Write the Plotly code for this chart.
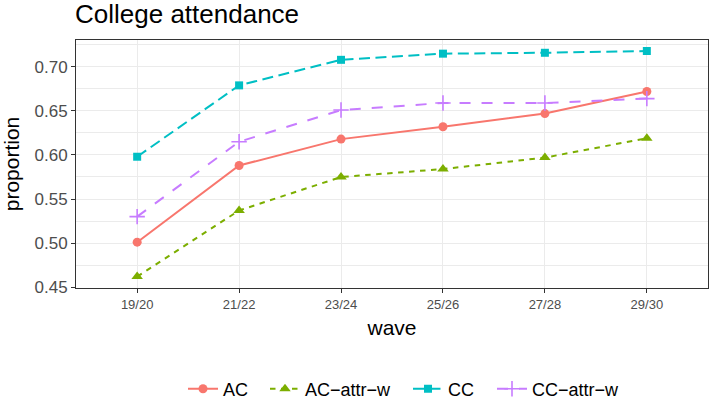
import plotly.graph_objects as go

waves = ["19/20", "21/22", "23/24", "25/26", "27/28", "29/30"]
ac = [0.501, 0.588, 0.618, 0.632, 0.647, 0.672]
ac_attr_w = [0.462, 0.537, 0.575, 0.584, 0.597, 0.619]
cc = [0.598, 0.679, 0.708, 0.715, 0.716, 0.718]
cc_attr_w = [0.530, 0.615, 0.651, 0.659, 0.659, 0.664]

series = [
    ("AC", ac, "#F8766D", "solid", "circle", 9),
    ("AC\u2212attr\u2212w", ac_attr_w, "#7CAE00", "5.5px,5.5px", "triangle-up", 10),
    ("CC", cc, "#00BFC4", "11px,5.5px", "square", 8),
    ("CC\u2212attr\u2212w", cc_attr_w, "#C77CFF", "11px,11px", "cross-thin", 11),
]
# left edge (px) of each legend entry's text in the reference
legend_text_x = [223, 305, 448, 532]

fig = go.Figure()
legend_ids = ["legend", "legend2", "legend3", "legend4"]
for i, (name, vals, color, dash, sym, size) in enumerate(series):
    fig.add_trace(go.Scatter(
        x=waves, y=vals, name=name, mode="lines+markers", legend=legend_ids[i],
        line=dict(color=color, width=2, dash=dash),
        marker=dict(symbol=sym, size=size, color=color,
                    line=dict(color=color, width=1.6 if sym == "cross-thin" else 0)),
    ))

grid = "#EBEBEB"
legend_layout = {}
for i, lid in enumerate(legend_ids):
    legend_layout[lid] = dict(
        orientation="h", x=(legend_text_x[i] - 40) / 709, xref="container", xanchor="left",
        y=1 - 389/402, yref="container", yanchor="middle",
        font=dict(size=18, color="black"), itemwidth=30,
        bgcolor="rgba(0,0,0,0)",
    )

fig.update_layout(
    width=709, height=402,
    margin=dict(l=76, r=1, t=40, b=114, autoexpand=False),
    paper_bgcolor="white", plot_bgcolor="white",
    font=dict(family="Liberation Sans, Arial, sans-serif", color="black"),
    title=dict(text="College attendance", x=75/709, xanchor="left", xref="container",
               y=1 - 14/402, yanchor="middle", yref="container",
               font=dict(size=26, color="black")),
    xaxis=dict(
        range=[-0.6, 5.6], showgrid=True, gridcolor=grid, gridwidth=1.1,
        showline=True, mirror=True, linecolor="#333333", linewidth=1,
        ticks="outside", ticklen=4, tickcolor="#333333", tickwidth=1,
        tickfont=dict(size=13, color="#4D4D4D"),
        title=dict(text="wave", font=dict(size=21, color="black"), standoff=9),
        zeroline=False, automargin=False,
    ),
    yaxis=dict(
        range=[0.4490, 0.7305], dtick=0.05, tick0=0, tickformat=".2f",
        showgrid=True, gridcolor=grid, gridwidth=1.1,
        minor=dict(dtick=0.025, tick0=0, showgrid=True, gridcolor=grid, gridwidth=0.6),
        showline=True, mirror=True, linecolor="#333333", linewidth=1,
        ticks="outside", ticklen=4, tickcolor="#333333", tickwidth=1,
        tickfont=dict(size=17, color="#4D4D4D"),
        title=dict(text="proportion", font=dict(size=21, color="black")),
        zeroline=False, automargin=False,
    ),
    showlegend=True,
    **legend_layout,
)

fig.write_html(
    "out.html",
    config={"displayModeBar": False},
    post_script="document.body.style.margin='0';document.body.style.overflow='hidden';",
)
